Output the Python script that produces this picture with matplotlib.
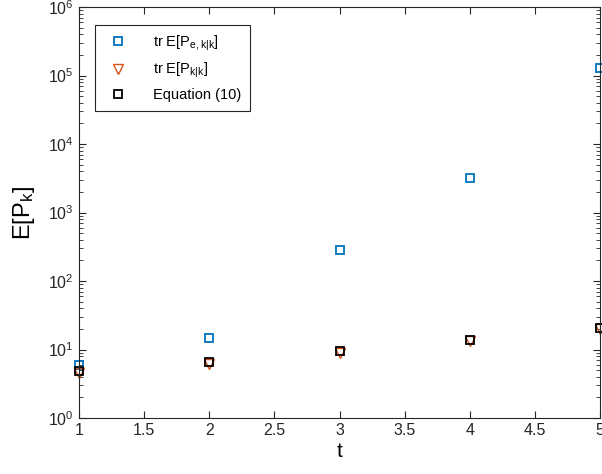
import matplotlib
matplotlib.use('Agg')
import matplotlib.pyplot as plt
import numpy as np

plt.rcParams['font.family'] = ['Liberation Sans', 'DejaVu Sans']
plt.rcParams['mathtext.default'] = 'regular'

t = [1, 2, 3, 4, 5]
tr_pe = [5.9, 15.0, 280, 3200, 130000]     # tr E[P_e,k|k]
tr_p = [4.6, 6.2, 8.9, 13.2, 20.0]         # tr E[P_k|k]
eq10 = [4.8, 6.6, 9.6, 13.8, 20.5]         # Equation (10)

fig = plt.figure(figsize=(6.02, 4.74), dpi=100)
ax = fig.add_axes([0.131, 0.118, 0.866, 0.867])

ax.plot(t, tr_pe, 's', mfc='none', mec='#0072BD', ms=6, mew=1.3,
        label=r'tr E[P$_{e,k|k}$]', clip_on=False)
ax.plot(t, tr_p, 'v', mfc='none', mec='#D95319', ms=7, mew=1.0,
        label=r'tr E[P$_{k|k}$]', clip_on=False)
ax.plot(t, eq10, 's', mfc='none', mec='black', ms=6, mew=1.3,
        label='Equation (10)', clip_on=False)

ax.set_yscale('log')
ax.set_xlim(1, 5)
ax.set_ylim(1, 1e6)
ax.set_xticks(np.arange(1, 5.01, 0.5))
ax.set_xticklabels(['1', '1.5', '2', '2.5', '3', '3.5', '4', '4.5', '5'])
ax.tick_params(which='both', direction='in', top=True, right=True,
               labelsize=11.5, colors='#262626')
ax.tick_params(which='major', length=5)
ax.tick_params(which='minor', length=3)
for s in ax.spines.values():
    s.set_color('#262626')
    s.set_linewidth(0.8)

ax.set_xlabel('t', fontsize=15, labelpad=3)
ax.set_ylabel(r'E[P$_k$]', fontsize=17, labelpad=8)

leg = ax.legend(loc='upper left', bbox_to_anchor=(0.03, 0.957), fontsize=10.5,
                fancybox=False, edgecolor='#262626', framealpha=1,
                handletextpad=1.4, borderpad=0.6, labelspacing=0.55,
                borderaxespad=0)
leg.get_frame().set_linewidth(0.8)

fig.savefig('out.png', dpi=100)
